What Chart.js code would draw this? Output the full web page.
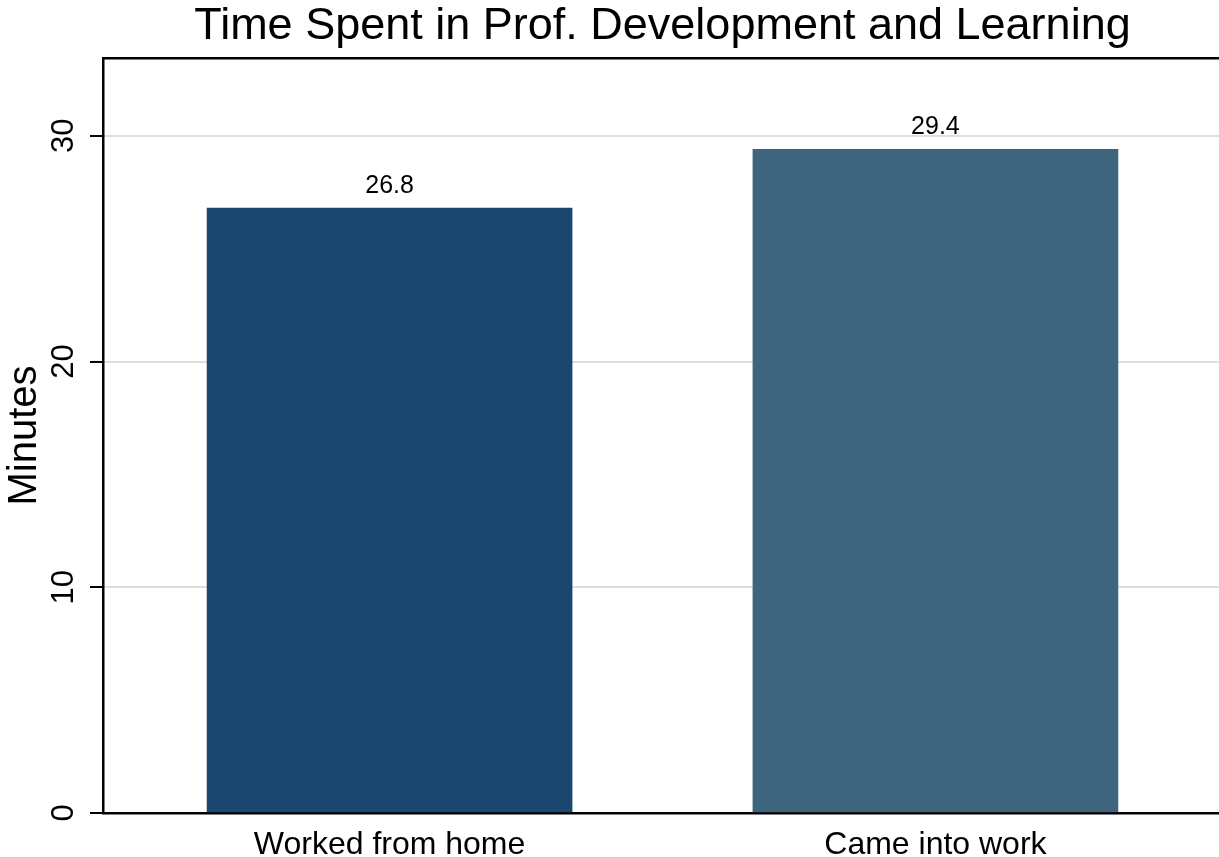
<!DOCTYPE html>
<html>
<head>
<meta charset="utf-8">
<title>Time Spent in Prof. Development and Learning</title>
<script src="https://cdn.jsdelivr.net/npm/chart.js@4.4.1/dist/chart.umd.min.js"></script>
<style>
  html, body { margin: 0; padding: 0; background: #fff; overflow: hidden; }
  #wrap { position: relative; width: 1240px; height: 857px; }
</style>
</head>
<body>
<div id="wrap"><canvas id="chart"></canvas></div>
<script>
// data
const categories = ["Worked from home", "Came into work"];
const positions = [1, 2];
const minutes = [26.8, 29.4];
const yTicks = [0, 10, 20, 30];
const barColors = ["#1c476f", "#3f647d"];

const FONT = "'Liberation Sans', Arial, Helvetica, sans-serif";

// value labels above each bar
const barLabels = {
    id: "barLabels",
    afterDatasetsDraw(chart) {
        const ctx = chart.ctx;
        const meta = chart.getDatasetMeta(0);
        ctx.save();
        ctx.font = "25px " + FONT;
        ctx.fillStyle = "#000";
        ctx.textAlign = "center";
        ctx.textBaseline = "alphabetic";
        meta.data.forEach((bar, i) => {
            ctx.fillText(minutes[i].toFixed(1), bar.x, bar.y - 15);
        });
        ctx.restore();
    }
};

new Chart(document.getElementById("chart"), {
    type: "bar",
    data: {
        datasets: [{
            data: positions.map((p, i) => ({ x: p, y: minutes[i] })),
            backgroundColor: barColors,
            borderWidth: 0,
            barThickness: 365
        }]
    },
    options: {
        responsive: true,
        maintainAspectRatio: false,
        animation: false,
        layout: { padding: { left: 0, right: 18, top: 0, bottom: 0 } },
        plugins: {
            legend: { display: false },
            tooltip: { enabled: false },
            title: {
                display: true,
                text: "Time Spent in Prof. Development and Learning",
                fullSize: false,
                color: "#000",
                font: { family: FONT, size: 45, weight: "normal" },
                padding: { top: 0, bottom: 4 }
            }
        },
        scales: {
            x: {
                type: "linear",
                position: "bottom",
                offset: false,
                min: 0.475,
                max: 2.525,
                z: 1,
                afterBuildTicks: (scale) => { scale.ticks = positions.map(v => ({ value: v })); },
                afterFit: (scale) => { scale.height = 44; },
                grid: { display: false, drawTicks: false },
                border: { display: true, color: "#000", width: 2.5 },
                ticks: {
                    color: "#000",
                    padding: 13,
                    maxRotation: 0,
                    font: { family: FONT, size: 32 },
                    callback: (v) => categories[positions.indexOf(v)]
                }
            },
            xTop: {
                type: "linear",
                position: "top",
                min: 0,
                max: 1,
                afterFit: (scale) => { scale.height = 0; },
                grid: { display: false, drawTicks: false },
                border: { display: true, color: "#000", width: 2.5 },
                ticks: { display: false }
            },
            y: {
                min: 0,
                max: 33.45,
                afterBuildTicks: (scale) => { scale.ticks = yTicks.map(v => ({ value: v })); },
                afterFit: (scale) => { scale.width = 103; },
                grid: {
                    color: "#dedede",
                    lineWidth: 2,
                    tickColor: "#000",
                    tickLength: 13,
                    tickWidth: 2
                },
                border: { display: true, color: "#000", width: 2.5 },
                ticks: {
                    color: "#000",
                    padding: 8,
                    minRotation: 90,
                    maxRotation: 90,
                    crossAlign: "center",
                    font: { family: FONT, size: 31 }
                },
                title: {
                    display: true,
                    text: "Minutes",
                    color: "#000",
                    font: { family: FONT, size: 40 },
                    padding: { top: 1, bottom: 0 }
                }
            }
        }
    },
    plugins: [barLabels]
});
</script>
</body>
</html>
